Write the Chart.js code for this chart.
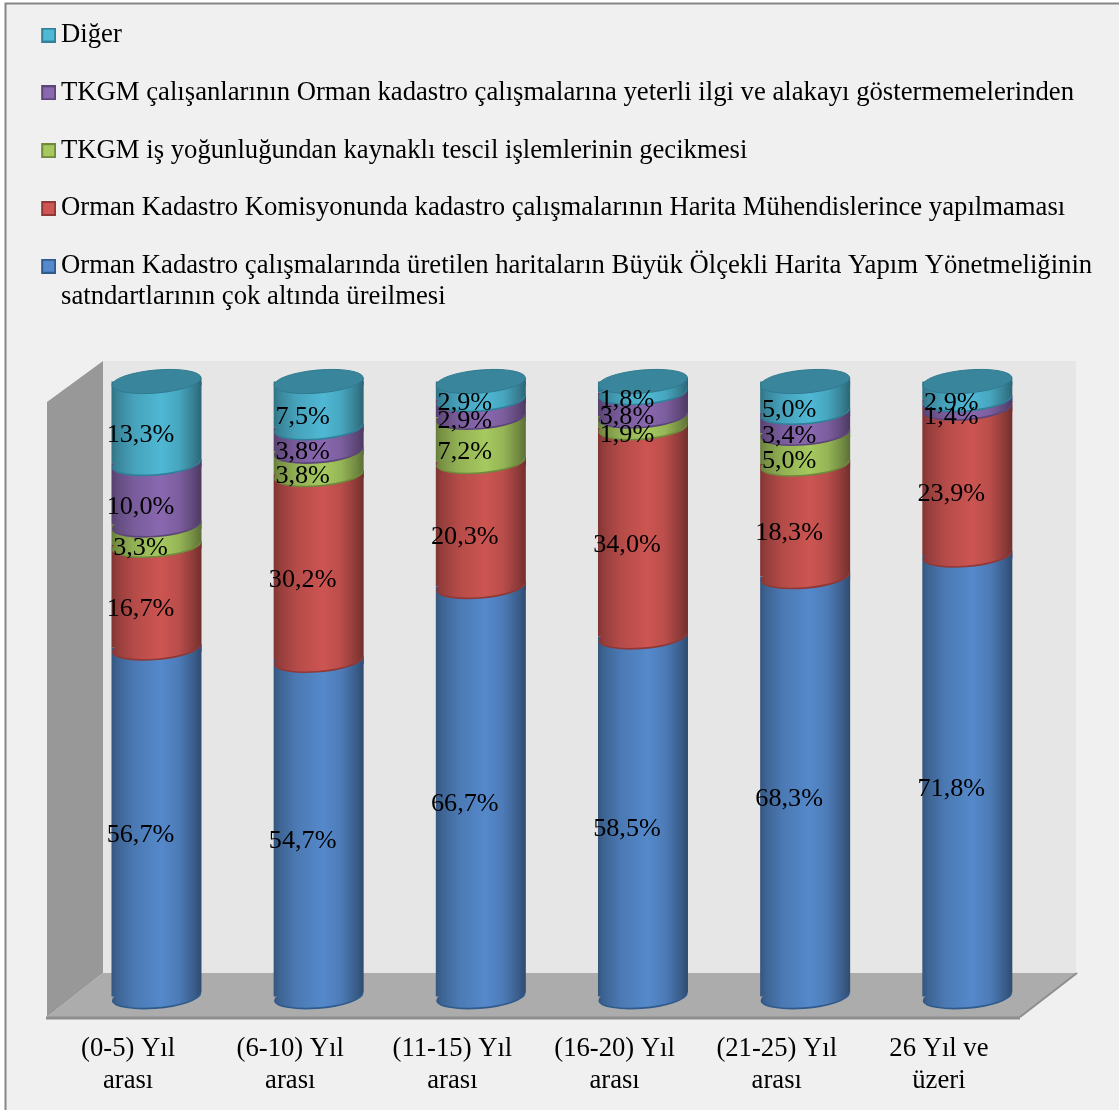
<!DOCTYPE html>
<html><head><meta charset="utf-8">
<style>html,body{margin:0;padding:0;background:#fff}canvas{display:block}</style>
<script src="https://cdn.jsdelivr.net/npm/chart.js@4"></script></head>
<body><canvas id="c" width="1119" height="1110"></canvas>
<script>
const categories = [['(0-5) Yıl','arası'],['(6-10) Yıl','arası'],['(11-15) Yıl','arası'],['(16-20) Yıl','arası'],['(21-25) Yıl','arası'],['26 Yıl ve','üzeri']];
const harita = [56.7,54.7,66.7,58.5,68.3,71.8];
const komisyon = [16.7,30.2,20.3,34.0,18.3,23.9];
const yogunluk = [3.3,3.8,7.2,1.9,5.0,0];
const ilgi = [10.0,3.8,2.9,3.8,3.4,1.4];
const diger = [13.3,7.5,2.9,1.8,5.0,2.9];
const seriesNames = [
 ['Orman Kadastro çalışmalarında üretilen haritaların Büyük Ölçekli Harita Yapım Yönetmeliğinin','satndartlarının çok altında üreilmesi'],
 'Orman Kadastro Komisyonunda kadastro çalışmalarının Harita Mühendislerince yapılmaması',
 'TKGM iş yoğunluğundan kaynaklı tescil işlemlerinin gecikmesi',
 'TKGM çalışanlarının Orman kadastro çalışmalarına yeterli ilgi ve alakayı göstermemelerinden',
 'Diğer'];
const seriesValues = [harita,komisyon,yogunluk,ilgi,diger];
const lightColors = ['#5589cb','#cd5552','#a6c95f','#8a68b0','#4fb8d4'];
const edgeColors = ['#2f5a8c','#8f3836','#6f8a3c','#5c4578','#2f8199'];
const capColor = '#39859c';
const floorColor = '#acacac';
const FONT = '"Liberation Serif"';
const DX = 28.4, DY = -20.5, RY = 11.5, ROT = -5*Math.PI/180;

function shade(hex,k){const n=parseInt(hex.slice(1),16);const f=v=>Math.round(v*k);
 return `rgb(${f(n>>16&255)},${f(n>>8&255)},${f(n&255)})`;}
function barGrad(ctx,cx,w,hex){const l=cx-w/2;const g=ctx.createLinearGradient(l,0,l+w,0);
 [[0,.62],[.06,.72],[.25,.88],[.55,1],[.75,.9],[.92,.68],[1,.55]].forEach(s=>g.addColorStop(s[0],shade(hex,s[1])));return g;}
function swatch(i){const c=document.createElement('canvas');c.width=18;c.height=15;const x=c.getContext('2d');
 x.fillStyle=edgeColors[i];x.fillRect(3,0,15,15);x.fillStyle=lightColors[i];x.fillRect(5,2,11,11);return c;}

const scene={id:'scene',
 beforeLayout(chart){const l=chart.legend;
  if(!l._wrapped){const f=l.fit;l.fit=function(){f.call(this);this.height=402;};l._wrapped=true;}},
 afterLayout(chart){const l=chart.legend;l.top=-9.4;l.left=15.57;l.right=1119;},
 beforeDraw(chart){const c=chart.ctx;c.save();
  c.fillStyle='#fff';c.fillRect(0,0,1119,1110);
  c.fillStyle='#f0f0f0';c.fillRect(5,3,1114,1107);
  c.strokeStyle='#868686';c.lineWidth=2;c.beginPath();c.moveTo(5.5,1110);c.lineTo(5.5,3.5);c.lineTo(1119,3.5);c.stroke();
  c.fillStyle='#e6e6e6';c.fillRect(103,361,973,612);
  c.fillStyle='#989898';c.beginPath();c.moveTo(47,402);c.lineTo(103,361);c.lineTo(103,973);c.lineTo(47,1017);c.closePath();c.fill();
  c.fillStyle=floorColor;c.beginPath();c.moveTo(47,1017);c.lineTo(103,973);c.lineTo(1077,973);c.lineTo(1020,1017);c.closePath();c.fill();
  c.strokeStyle='#8e8e8e';c.lineWidth=2;c.beginPath();c.moveTo(1077,973);c.lineTo(1020,1017);c.stroke();
  c.lineWidth=3;c.beginPath();c.moveTo(46,1018);c.lineTo(1020,1018);c.stroke();
  c.restore();},
 beforeDatasetsDraw(chart){chart.ctx.save();chart.ctx.translate(DX,DY);},
 afterDatasetsDraw(chart){const c=chart.ctx;
  const n=chart.data.labels.length;
  for(let j=0;j<n;j++){
   let topEl=null,topHex=null,below=null;
   chart.data.datasets.forEach((d,i)=>{
    if(!d.data[j])return;
    const el=chart.getDatasetMeta(i).data[j];
    const rx=el.width/2,rise=Math.sin(-ROT)*rx;
    const pad=below===null?.6:0;
    c.save();
    c.fillStyle=below===null?floorColor:barGrad(c,el.x,el.width,below);
    c.beginPath();c.moveTo(el.x-rx,el.base+rise);c.lineTo(el.x+rx+pad,el.base-rise);c.lineTo(el.x+rx+pad,el.base+rise);c.closePath();c.fill();
    c.fillStyle=barGrad(c,el.x,el.width,lightColors[i]);
    c.beginPath();c.ellipse(el.x,el.base,rx-.3,RY,ROT,0,Math.PI*2);c.fill();
    c.strokeStyle=edgeColors[i];c.lineWidth=1.6;
    c.beginPath();c.ellipse(el.x,el.base,rx-.8,RY,ROT,0.05,Math.PI-.05);c.stroke();
    c.restore();
    topEl=el;topHex=lightColors[i];below=lightColors[i];
   });
   const rx=topEl.width/2,cx=topEl.x,cy=topEl.y,rise=Math.sin(-ROT)*rx;
   c.save();
   c.fillStyle=barGrad(c,cx,topEl.width,topHex);
   c.beginPath();c.moveTo(cx-rx,cy+rise);c.lineTo(cx+rx,cy-rise);c.lineTo(cx+rx,cy+rise);c.closePath();c.fill();
   c.fillStyle=capColor;c.strokeStyle='#2f7a90';c.lineWidth=1;
   c.beginPath();c.ellipse(cx,cy,rx-.3,RY,ROT,0,Math.PI*2);c.fill();c.stroke();
   c.restore();
  }
  c.restore();
  c.save();c.fillStyle='#000';c.font='26.2px '+FONT;c.textAlign='center';c.textBaseline='middle';
  chart.data.datasets.forEach((d,i)=>{const m=chart.getDatasetMeta(i);
   d.data.forEach((v,j)=>{if(!v)return;const el=m.data[j];
    c.fillText(v.toFixed(1).replace('.',',')+'%',el.x+DX-16,(el.y+el.base)/2+DY+13);});});
  c.restore();}
};

new Chart(document.getElementById('c'),{
 type:'bar',
 data:{labels:categories,datasets:seriesValues.map((vals,i)=>({
  label:seriesNames[i],data:vals,clip:false,borderWidth:0,
  backgroundColor:ctx=>{const a=ctx.chart.chartArea;if(!a||ctx.dataIndex===undefined)return lightColors[i];
   const sx=ctx.chart.scales.x;const cx=sx.getPixelForValue(ctx.dataIndex);return barGrad(ctx.chart.ctx,cx,90,lightColors[i]);}
 }))},
 options:{responsive:false,animation:false,
  layout:{padding:{left:47,right:99,top:0,bottom:0}},
  datasets:{bar:{categoryPercentage:1,barPercentage:0.555}},
  scales:{
   x:{stacked:true,grid:{display:false},border:{display:false},
    afterFit:s=>{s.height=93;},
    ticks:{color:'#000',font:{family:FONT,size:26.67,lineHeight:1.19},maxRotation:0,minRotation:0,autoSkip:false,padding:8}},
   y:{stacked:true,min:0,max:100,display:false}
  },
  plugins:{
   tooltip:{enabled:false},
   legend:{display:true,position:'top',align:'start',
    labels:{color:'#000',font:{family:FONT,size:26.7,lineHeight:1.16},usePointStyle:true,pointStyleWidth:1,boxHeight:15,padding:31.1,
     generateLabels:chart=>chart.data.datasets.map((d,i)=>({text:d.label,datasetIndex:i,pointStyle:swatch(i),fontColor:'#000',lineWidth:0,strokeStyle:'transparent',fillStyle:lightColors[i]})).reverse()}}
  }
 },
 plugins:[scene]
});
</script></body></html>
